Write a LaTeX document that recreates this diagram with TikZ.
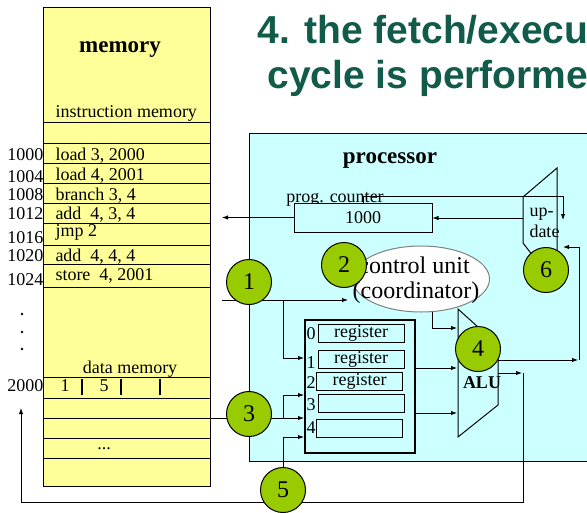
\documentclass[tikz,border=0pt]{standalone}
\usepackage{fontspec}
\setmainfont{Liberation Serif}
\newfontfamily\headfont{Liberation Sans}
\usetikzlibrary{arrows.meta,shapes.geometric}
\definecolor{memyellow}{HTML}{FFFF99}
\definecolor{cpucyan}{HTML}{CCFFFF}
\definecolor{stepgreen}{HTML}{99CC00}
\definecolor{headgreen}{HTML}{125B4B}
\tikzset{
  txt/.style={inner sep=0pt, font=\fontsize{18}{20}\selectfont},
  bigtxt/.style={inner sep=0pt, font=\fontsize{24}{25}\selectfont},
  boldtxt/.style={inner sep=0pt, font=\fontsize{23}{25}\selectfont\bfseries},
  headtxt/.style={anchor=base west, inner sep=0pt, text=headgreen, font=\headfont\bfseries\fontsize{39}{45}\selectfont},
  stepnum/.style={circle, draw=black, fill=stepgreen, minimum size=45pt, inner sep=0pt, font=\fontsize{24}{25}\selectfont},
  regbox/.style={draw, minimum width=86pt, minimum height=18pt, inner sep=0pt, font=\fontsize{18}{20}\selectfont},
}
\begin{document}
\begin{tikzpicture}[x=1pt, y=-1pt, line width=1pt, >={Latex[length=6pt,width=4.5pt]}]
  \useasboundingbox (0,0) rectangle (587,512);
  \clip (0,0) rectangle (587,512);
  \node[headtxt] (head1) at (257,43) {4. the fetch/execu};
  \node[headtxt] (head2) at (267,88) {cycle is performe};

  % memory
  \node[draw, fill=memyellow, anchor=north west, minimum width=167pt, minimum height=479pt, inner sep=0pt] (mem) at (43,7) {};
  \foreach \y in {122,143,163,183,203,223,245,264,287,377,398,418,438,458}
    \draw (43,\y) -- (210,\y);
  \node[boldtxt, anchor=base] (memtitle) at (120,52) {memory};
  \node[txt, anchor=base west] (imem) at (55,117) {instruction memory};
  \foreach \b/\t [count=\i] in {160/{load 3, 2000}, 180/{load 4, 2001}, 200/{branch 3, 4}, 219/{add~~4, 3, 4}, 236/{jmp 2}, 261/{add~~4, 4, 4}, 280/{store~~4, 2001}}
    \node[txt, anchor=base west] (ins\i) at (55,\b) {\t};
  \foreach \b/\a in {160/1000, 182/1004, 200/1008, 219/1012, 243/1016, 261/1020, 285/1024, 391/2000}
    \node[txt, anchor=base east] (addr\a) at (44,\b) {\a};
  \foreach \y in {314,332,349}
    \fill (22,\y) circle(1.3pt);
  \node[txt, anchor=base] (dmem) at (130,373) {data memory};
  \foreach \x in {82,121,160}
    \draw[line width=1.5pt] (\x,379) -- (\x,395);
  \node[txt, anchor=base] (cellA) at (65,391) {1};
  \node[txt, anchor=base] (cellB) at (104,391) {5};
  \node[txt, anchor=base] (more) at (104,449) {...};

  % processor
  \node[draw, fill=cpucyan, anchor=north west, minimum width=360pt, minimum height=328pt, inner sep=0pt] (cpu) at (249,133) {};
  \node[boldtxt, anchor=base] (cputitle) at (390,163) {processor};
  \node[txt, anchor=base] (pclabel) at (335,202) {prog. counter};
  \node[draw, fill=cpucyan, minimum width=138pt, minimum height=29pt, inner sep=0pt, font=\fontsize{18}{20}\selectfont] (pc) at (363,217.5) {1000};
  \draw[fill=cpucyan] (523,197) -- (557,168) -- (557,265) -- (540,265) -- (523,243) -- cycle;
  \node[txt, anchor=base west] (updA) at (529,216) {up-};
  \node[txt, anchor=base west] (updB) at (529,237) {date};
  \node[ellipse, draw=gray, fill=white, minimum width=137pt, minimum height=66pt, inner sep=0pt] (cu) at (421,279) {};
  \node[bigtxt, anchor=base] (cuA) at (414,273) {control unit};
  \node[bigtxt, anchor=base] (cuB) at (416,298) {(coordinator)};

  \node[draw, line width=1.6pt, fill=cpucyan, anchor=north west, minimum width=110pt, minimum height=133pt, inner sep=0pt] (rf) at (304,319) {};
  \node[regbox] (reg0) at (361,333.5) {register};
  \node[regbox] (reg1) at (361,359.5) {register};
  \node[regbox] (reg2) at (359.5,381) {register};
  \node[regbox] (reg3) at (361,403) {};
  \node[regbox] (reg4) at (359.5,428.5) {};
  \foreach \b/\n in {339/0, 368/1, 388/2, 410/3, 433/4}
    \node[txt, anchor=base] (lab\n) at (311,\b) {\n};

  \draw[fill=cpucyan] (458,309) -- (498,345) -- (498,405) -- (458,437) -- cycle;
  \node[inner sep=0pt, anchor=base, font=\fontsize{18}{20}\selectfont\bfseries] (alulabel) at (482,388) {ALU};

  \coordinate (pcout) at (222,217.5);
  \coordinate (updwest) at (523,218);
  \coordinate (updin) at (563,220);
  \coordinate (updret) at (563,247);
  \coordinate (aluhi) at (498,360);
  \coordinate (alulo) at (498,373);
  \coordinate (fetch) at (222,300);
  \coordinate (back) at (21,408);

  % connectors
  \draw[->] (pc.west) -- (pcout);
  \draw[->] (updwest) -- (updwest -| pc.east);
  \draw[->] (pc.north) |- (563,196) -- (updin);
  \draw[->] (aluhi) -- (578,360);
  \draw[->] (579,360) |- (updret);
  \draw[->] (alulo) -- (522,373);
  \draw[->] (523,373) |- (back |- 0,502) -- (back);
  \draw[->] (fetch) -- (348,300);
  \draw[->] (283,300) |- (rf.west |- 0,358);
  \draw[->] (mem.east |- 0,418) -- (rf.west |- 0,418);
  \draw[->] (283,418) |- (rf.west |- 0,395);
  \draw[->] (283,468) |- (rf.west |- 0,437);
  \draw[->] (cu.-71) |- (457,328);
  \draw[->] (rf.east |- 0,368) -- (457,368);
  \draw[->] (rf.east |- 0,413) -- (457,413);

  % steps
  \node[stepnum] (s1) at (249,282) {1};
  \node[stepnum] (s2) at (344,265) {2};
  \node[stepnum] (s3) at (249,414) {3};
  \node[stepnum] (s4) at (478,349) {4};
  \node[stepnum] (s5) at (283,490) {5};
  \node[stepnum] (s6) at (546,270) {6};
\end{tikzpicture}
\end{document}
